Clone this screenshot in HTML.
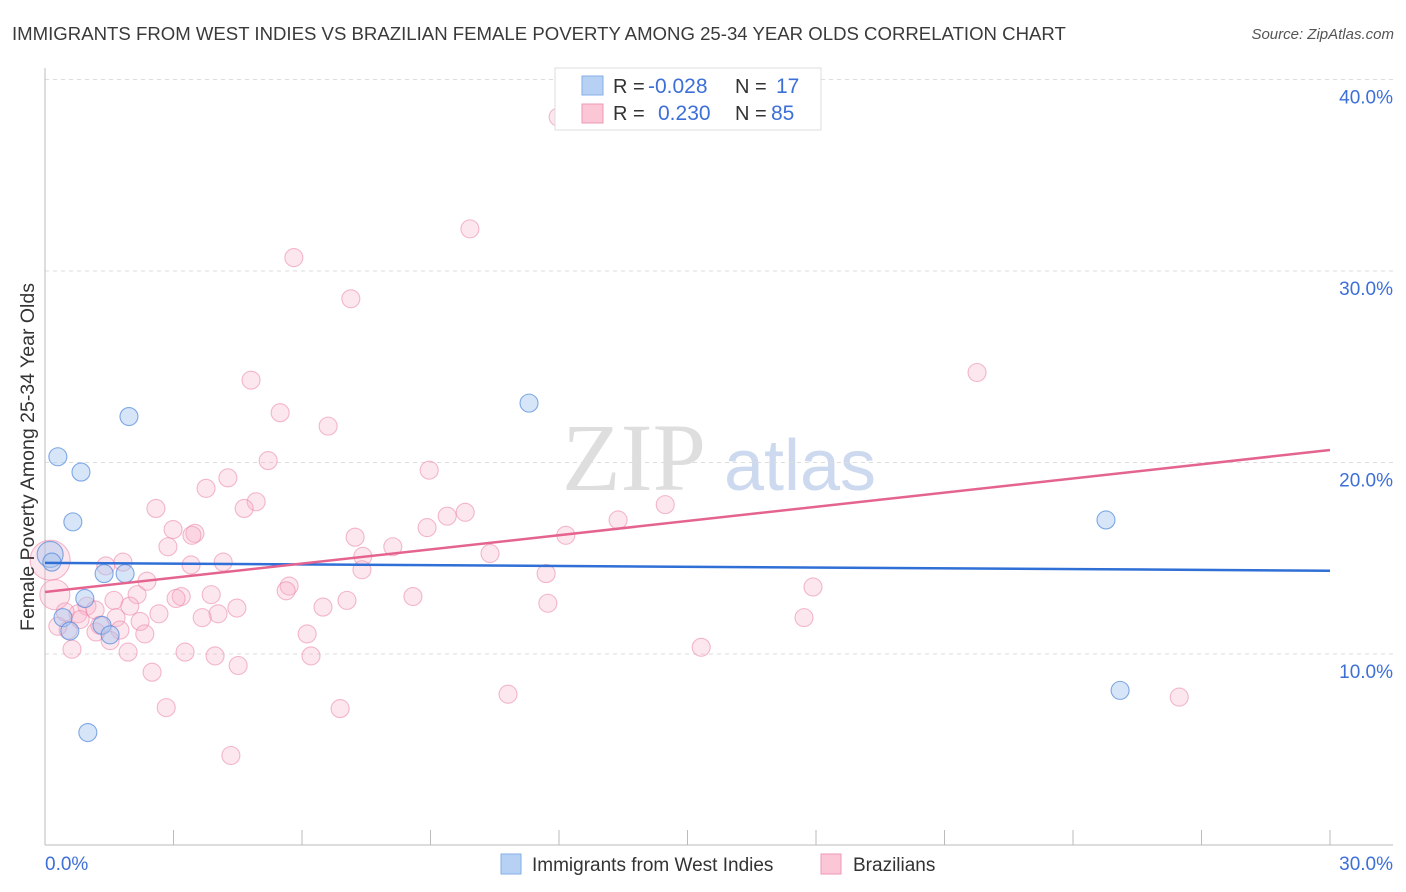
<!DOCTYPE html>
<html><head><meta charset="utf-8"><style>
body{margin:0;background:#fff;font-family:"Liberation Sans",sans-serif;}
svg{display:block}
</style></head><body>
<svg id="chart" width="1406" height="892">
<text x="12" y="40" font-size="18.6" fill="#3a3a3a">IMMIGRANTS FROM WEST INDIES VS BRAZILIAN FEMALE POVERTY AMONG 25-34 YEAR OLDS CORRELATION CHART</text>
<text x="1394" y="39" font-size="15" font-style="italic" fill="#555" text-anchor="end">Source: ZipAtlas.com</text>
<g>
<text x="634" y="490" font-size="96" font-family="Liberation Serif,serif" fill="#dedede" text-anchor="middle">ZIP</text>
<text x="800" y="490" font-size="72" fill="#cdd9ee" text-anchor="middle">atlas</text>
</g>
<g id="grid"></g>
<g id="axes"></g>
<g id="marks"></g>
<g>
<rect x="555" y="68" width="266" height="62" fill="#fff" stroke="#ddd"/>
<rect x="582" y="76" width="21" height="19" fill="#b7d1f5" stroke="#86aee8"/>
<rect x="582" y="104" width="21" height="19" fill="#fbc6d6" stroke="#ef9ab5"/>
<text y="93" font-size="20" fill="#333"><tspan x="613">R =</tspan><tspan x="648" fill="#3d6fd8" font-size="21">-0.028</tspan><tspan x="735">N =</tspan><tspan x="776" fill="#3d6fd8" font-size="21">17</tspan></text>
<text y="120" font-size="20" fill="#333"><tspan x="613">R =</tspan><tspan x="658" fill="#3d6fd8" font-size="21">0.230</tspan><tspan x="735">N =</tspan><tspan x="771" fill="#3d6fd8" font-size="21">85</tspan></text>
</g>
<g>
<rect x="501" y="854" width="20" height="20" fill="#b7d1f5" stroke="#86aee8"/>
<text x="532" y="871" font-size="19" fill="#333">Immigrants from West Indies</text>
<rect x="821" y="854" width="20" height="20" fill="#fbc6d6" stroke="#ef9ab5"/>
<text x="853" y="871" font-size="19" fill="#333">Brazilians</text>
</g>
<text transform="translate(34,457) rotate(-90)" font-size="19.5" fill="#333" text-anchor="middle">Female Poverty Among 25-34 Year Olds</text>
</svg>
<script>
const yTicks=[10,20,30,40];
const yTickLabels=["10.0%","20.0%","30.0%","40.0%"];
const xTickLabels=["0.0%","30.0%"];
const blueX=[0.12,0.16,0.30,0.84,0.65,1.96,1.38,1.87,0.93,0.42,0.58,1.33,1.52,1.0,11.3,24.77,25.1];
const blueY=[15.2,14.8,20.3,19.5,16.9,22.4,14.2,14.2,12.9,11.9,11.2,11.5,11.0,5.9,23.1,17.0,8.1];
const blueR=[13,9,9,9,9,9,9,9,9,9,9,9,9,9,9,9,9];
const pinkX=[11.98,9.92,5.81,7.14,4.81,21.76,5.49,6.61,5.21,8.97,3.76,4.27,4.93,4.65,2.59,2.99,3.50,3.43,2.87,7.24,9.81,9.39,8.92,12.16,13.38,14.48,8.12,10.39,7.42,7.40,11.70,3.41,4.16,1.82,1.42,2.38,5.70,5.63,3.18,3.06,2.15,1.61,3.88,8.59,7.05,1.98,2.66,0.98,4.48,6.49,11.74,17.93,17.72,4.04,3.67,2.22,1.66,0.77,0.82,1.17,2.33,6.12,1.19,0.63,1.94,3.27,3.97,6.21,4.51,2.50,15.32,10.81,2.83,6.89,26.48,4.34,0.23,0.12,0.54,0.30,1.75,1.28,1.52,0.47];
const pinkY=[38.04,32.2,30.7,28.55,24.3,24.7,22.6,21.9,20.1,19.6,18.65,19.2,17.95,17.6,17.6,16.5,16.3,16.2,15.6,16.1,17.4,17.2,16.6,16.2,17.0,17.8,15.6,15.25,15.1,14.4,14.2,14.65,14.8,14.8,14.6,13.8,13.55,13.3,13.0,12.9,13.1,12.8,13.1,13.0,12.8,12.5,12.1,12.5,12.4,12.45,12.65,13.5,11.9,12.1,11.9,11.7,11.9,12.1,11.8,12.3,11.05,11.05,11.15,10.25,10.1,10.1,9.9,9.9,9.4,9.05,10.35,7.9,7.2,7.15,7.75,4.7,13.1,14.9,11.25,11.45,11.25,11.5,10.7,12.2];
const pinkR=pinkX.map((v,i)=>i===76?15:(i===77?20:9));
const blueTrend=[14.76,14.35];
const pinkTrend=[13.24,20.65];
const X0=45,X1=1330,Y0=845.5,YPER=19.15;
const sx=v=>X0+(v/30)*(X1-X0);
const sy=v=>Y0-v*YPER;
const NS="http://www.w3.org/2000/svg";
function mk(tag,attrs,parent){const e=document.createElementNS(NS,tag);for(const k in attrs)e.setAttribute(k,attrs[k]);parent.appendChild(e);return e;}
const grid=document.getElementById('grid'),axes=document.getElementById('axes'),marks=document.getElementById('marks');
yTicks.forEach((t,i)=>{
 const l=mk('line',{x1:45,x2:1393,y1:sy(t),y2:sy(t),stroke:'#ddd','stroke-dasharray':'4,4'},grid);
 
 
 const tx=mk('text',{x:1393,y:sy(t)+24,'font-size':19,fill:'#3d6fd8','text-anchor':'end'},grid);
 tx.textContent=yTickLabels[i];
 
 
});
const ax=mk('line',{x1:45,x2:1393,y1:845,y2:845,stroke:'#bbb'},axes);


const ay=mk('line',{x1:45,x2:45,y1:68,y2:845,stroke:'#bbb'},axes);


for(let i=0;i<=10;i++){
 const tk=mk('line',{x1:sx(i*3),x2:sx(i*3),y1:830,y2:845,stroke:'#bbb'},axes);
 
 
}
const xl0=mk('text',{x:45,y:870,'font-size':19,fill:'#3d6fd8'},axes);
xl0.textContent=xTickLabels[0];


const xl1=mk('text',{x:1393,y:870,'font-size':19,fill:'#3d6fd8','text-anchor':'end'},axes);
xl1.textContent=xTickLabels[1];


pinkX.forEach((v,i)=>{
 const c=mk('circle',{cx:sx(v),cy:sy(pinkY[i]),r:pinkR[i],fill:'rgba(248,175,198,0.3)',stroke:'rgba(235,140,172,0.6)','stroke-width':1.1},marks);
 
 
});
blueX.forEach((v,i)=>{
 const c=mk('circle',{cx:sx(v),cy:sy(blueY[i]),r:blueR[i],fill:'rgba(165,198,240,0.45)',stroke:'rgba(80,135,220,0.7)','stroke-width':1.1},marks);
 
 
});
const bt=mk('line',{x1:sx(0),x2:sx(30),y1:sy(blueTrend[0]),y2:sy(blueTrend[1]),stroke:'#2f6fd6','stroke-width':2.5},marks);


const pt=mk('line',{x1:sx(0),x2:sx(30),y1:sy(pinkTrend[0]),y2:sy(pinkTrend[1]),stroke:'#e4648f','stroke-width':2.5},marks);


</script>
</body></html>
